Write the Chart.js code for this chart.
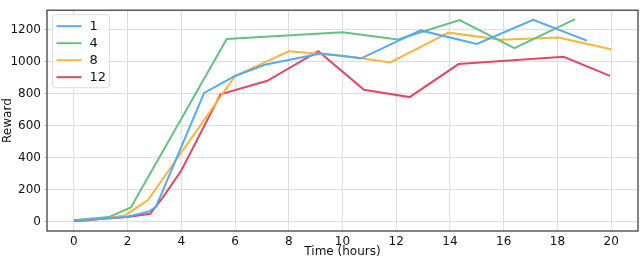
<!DOCTYPE html>
<html lang="en">
<head>
    <meta charset="UTF-8">
    <title>Reward over time</title>
    <script src="https://cdn.jsdelivr.net/npm/chart.js"></script>
    <style>
        body {
            margin: 0;
            background-color: #ffffff;
            font-family: "DejaVu Sans", sans-serif;
        }
        #wrap {
            width: 640px;
            height: 259px;
        }
    </style>
</head>
<body>
<div id="wrap"><canvas id="rewardChart" width="640" height="259"></canvas></div>

<script>
    // series labels and colours
    const seriesNames = ['1', '4', '8', '12'];
    const seriesColors = ['#52aaf7', '#66c083', '#fdb43a', '#e24863'];

    // time (hours) and reward values
    const time1 = [0, 1, 2, 2.8, 3.05, 4.85, 6.0, 7.1, 9.2, 10.7, 12.9, 15.0, 17.1, 19.1];
    const reward1 = [10, 20, 32, 65, 92, 804, 910, 980, 1050, 1020, 1194, 1110, 1260, 1130];

    const time4 = [0, 1.3, 2.12, 5.69, 10.0, 12.06, 14.36, 16.4, 18.66];
    const reward4 = [10, 30, 90, 1140, 1182, 1138, 1258, 1084, 1264];

    const time8 = [0, 1.0, 1.9, 2.76, 6.0, 8.0, 10.0, 10.7, 11.78, 13.95, 15.9, 18.04, 20.0];
    const reward8 = [8, 20, 40, 136, 910, 1064, 1036, 1020, 994, 1180, 1136, 1150, 1076];

    const time12 = [0, 0.5, 1.0, 2.0, 2.84, 3.3, 4.0, 5.46, 7.2, 9.1, 10.8, 12.5, 14.32, 18.23, 19.96];
    const reward12 = [5, 8, 18, 30, 50, 150, 320, 796, 880, 1064, 824, 778, 984, 1030, 910];

    const xTicks = [0, 2, 4, 6, 8, 10, 12, 14, 16, 18, 20];
    const yTicks = [0, 200, 400, 600, 800, 1000, 1200];

    const allTimes = [time1, time4, time8, time12];
    const allRewards = [reward1, reward4, reward8, reward12];

    const datasets = seriesNames.map((name, i) => ({
        label: name,
        data: allTimes[i].map((t, j) => ({x: t, y: allRewards[i][j]})),
        borderColor: seriesColors[i],
        backgroundColor: seriesColors[i],
        borderWidth: 2,
        pointRadius: 0,
        tension: 0,
        fill: false
    }));

    // frame around the plot + legend box drawn inside the axes (matplotlib style)
    const framePlugin = {
        id: 'frame',
        afterDraw(chart) {
            const ctx = chart.ctx;
            const a = chart.chartArea;
            ctx.save();
            ctx.strokeStyle = '#333333';
            ctx.lineWidth = 1.2;
            ctx.strokeRect(a.left, a.top, a.right - a.left, a.bottom - a.top);

            // legend
            const x0 = a.left + 5.5, y0 = a.top + 4.5;
            ctx.fillStyle = 'rgba(255,255,255,0.85)';
            ctx.strokeStyle = '#dddddd';
            ctx.lineWidth = 1;
            ctx.beginPath();
            ctx.roundRect(x0, y0, 57, 73, 3);
            ctx.fill();
            ctx.stroke();
            ctx.font = '13px "DejaVu Sans"';
            ctx.textBaseline = 'middle';
            chart.data.datasets.forEach((ds, i) => {
                const yy = y0 + 11.5 + i * 17;
                ctx.strokeStyle = ds.borderColor;
                ctx.lineWidth = 2;
                ctx.beginPath();
                ctx.moveTo(x0 + 4, yy);
                ctx.lineTo(x0 + 29, yy);
                ctx.stroke();
                ctx.fillStyle = '#111111';
                ctx.fillText(ds.label, x0 + 37, yy + 0.5);
            });
            ctx.restore();
        }
    };

    new Chart(document.getElementById('rewardChart'), {
        type: 'line',
        data: {datasets: datasets},
        plugins: [framePlugin],
        options: {
            responsive: false,
            animation: false,
            layout: {padding: {top: 2, right: 2, left: 0, bottom: 0}},
            plugins: {
                legend: {display: false},
                tooltip: {enabled: false}
            },
            scales: {
                x: {
                    type: 'linear',
                    min: -1,
                    max: 21,
                    afterBuildTicks: scale => { scale.ticks = xTicks.map(v => ({value: v})); },
                    afterFit: scale => { scale.height = 28; },
                    grid: {color: '#dddddd', lineWidth: 1, drawTicks: false},
                    border: {display: false},
                    ticks: {
                        color: '#111111', padding: 4, maxRotation: 0,
                        font: {family: 'DejaVu Sans', size: 12},
                        callback: v => String(v)
                    },
                    title: {
                        display: true,
                        text: 'Time (hours)',
                        color: '#111111',
                        padding: {top: 2, bottom: 0},
                        font: {family: 'DejaVu Sans', size: 12}
                    }
                },
                y: {
                    min: -57,
                    max: 1320,
                    afterBuildTicks: scale => { scale.ticks = yTicks.map(v => ({value: v})); },
                    afterFit: scale => { scale.width = 47; },
                    grid: {color: '#dddddd', lineWidth: 1, tickLength: 3, tickColor: '#cccccc'},
                    border: {display: false},
                    ticks: {
                        color: '#111111', padding: 3,
                        font: {family: 'DejaVu Sans', size: 12},
                        callback: v => String(v)
                    },
                    title: {
                        display: true,
                        text: 'Reward',
                        color: '#111111',
                        padding: {top: 1, bottom: 0},
                        font: {family: 'DejaVu Sans', size: 12}
                    }
                }
            }
        }
    });
</script>
</body>
</html>
